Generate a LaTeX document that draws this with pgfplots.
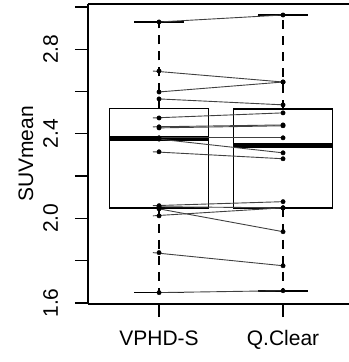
\documentclass[border=0pt]{standalone}
\usepackage{pgfplots}
\pgfplotsset{compat=1.18}
\usepackage{fontspec}
\setmainfont{Liberation Sans}
\begin{document}
\begin{tikzpicture}[font=\fontsize{21bp}{25bp}\selectfont]
\begin{axis}[
  at={(0,0)}, anchor=south west,
  scale only axis,
  width=261bp, height=300bp,
  xmin=0.427, xmax=2.532,
  ymin=1.595, ymax=3.014,
  axis lines*=left,
  axis line style={line width=1.3bp},
  tick style={line width=1.3bp, black},
  tick align=outside,
  major tick length=13bp,
  xtick={1,2}, xticklabels={VPHD-S, Q.Clear},
  ytick={1.6,1.8,2.0,2.2,2.4,2.6,2.8,3.0},
  yticklabels={1.6,,2.0,,2.4,,2.8,},
  yticklabel style={rotate=90, anchor=base, inner sep=0pt},
  xticklabel style={anchor=base, inner sep=0pt},
  yticklabel shift=17bp,
  xticklabel shift=28bp,
  ylabel={SUVmean},
  every axis y label/.style={at={(axis description cs:-0.2107,0.5)}, rotate=90, anchor=base},
  clip=false,
]
% boxes
\addplot[line width=1.7bp, black] coordinates {(0.6,2.05) (1.4,2.05) (1.4,2.52) (0.6,2.52) (0.6,2.05)};
\addplot[line width=1.7bp, black] coordinates {(1.6,2.05) (2.4,2.05) (2.4,2.518) (1.6,2.518) (1.6,2.05)};
% medians
\addplot[line width=5bp, black] coordinates {(0.6,2.378) (1.4,2.378)};
\addplot[line width=5bp, black] coordinates {(1.6,2.3455) (2.4,2.3455)};
% whiskers
\addplot[line width=1.5bp, black, dash pattern=on 9bp off 7bp] coordinates {(1,2.52) (1,2.929)};
\addplot[line width=1.5bp, black, dash pattern=on 9bp off 7bp] coordinates {(1,2.05) (1,1.649)};
\addplot[line width=1.5bp, black, dash pattern=on 9bp off 7bp] coordinates {(2,2.518) (2,2.962)};
\addplot[line width=1.5bp, black, dash pattern=on 9bp off 7bp] coordinates {(2,2.05) (2,1.658)};
% caps
\addplot[line width=1.7bp, black] coordinates {(0.8,2.929) (1.2,2.929)};
\addplot[line width=1.7bp, black] coordinates {(0.8,1.649) (1.2,1.649)};
\addplot[line width=1.7bp, black] coordinates {(1.8,2.962) (2.2,2.962)};
\addplot[line width=1.7bp, black] coordinates {(1.8,1.658) (2.2,1.658)};
% paired lines
\pgfplotsset{pair/.style={line width=0.9bp, black!75}}
\addplot[pair] coordinates {(1,2.929) (2,2.962)};
\addplot[pair] coordinates {(0.95,2.697) (2,2.645)};
\addplot[pair] coordinates {(1,2.598) (2,2.645)};
\addplot[pair] coordinates {(1,2.565) (2,2.537)};
\addplot[pair] coordinates {(0.95,2.475) (2,2.499)};
\addplot[pair] coordinates {(0.95,2.433) (2,2.442)};
\addplot[pair] coordinates {(1,2.428) (2,2.438)};
\addplot[pair] coordinates {(1,2.381) (2,2.381)};
\addplot[pair] coordinates {(1,2.375) (2,2.310)};
\addplot[pair] coordinates {(0.95,2.315) (2,2.282)};
\addplot[pair] coordinates {(0.95,2.060) (2,2.079)};
\addplot[pair] coordinates {(1,2.055) (2,2.050)};
\addplot[pair] coordinates {(1,2.045) (2,1.937)};
\addplot[pair] coordinates {(0.95,2.012) (2,2.050)};
\addplot[pair] coordinates {(0.95,1.838) (2,1.776)};
\addplot[pair] coordinates {(1,1.649) (2,1.658)};
% points
\addplot[only marks, mark=*, mark size=2.2bp, black] coordinates {
(1,2.929) (1,2.697) (1,2.598) (1,2.565) (1,2.475) (1,2.433) (1,2.428) (1,2.381)
(1,2.375) (1,2.315) (1,2.060) (1,2.055) (1,2.045) (1,2.012) (1,1.838) (1,1.649)};
\addplot[only marks, mark=*, mark size=2.2bp, black] coordinates {
(2,2.962) (2,2.645) (2,2.645) (2,2.537) (2,2.499) (2,2.442) (2,2.438) (2,2.381)
(2,2.310) (2,2.282) (2,2.079) (2,2.050) (2,1.937) (2,2.050) (2,1.776) (2,1.658)};
% top frame line
\draw[line width=1.3bp] (rel axis cs:0,1) -- (rel axis cs:1,1);
\end{axis}
\pgfresetboundingbox
\path[use as bounding box] (-88bp,-58bp) rectangle (261bp,304bp);
\end{tikzpicture}
\end{document}
